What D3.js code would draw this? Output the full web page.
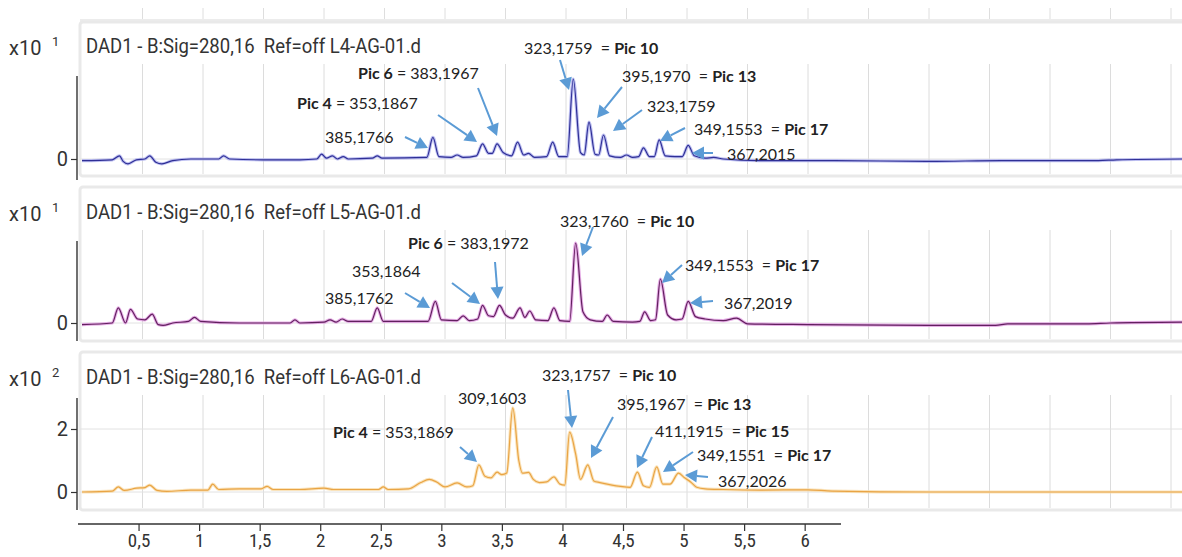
<!DOCTYPE html>
<html>
<head>
<meta charset="utf-8">
<script src="https://cdn.jsdelivr.net/npm/d3@7"></script>
<style>
  body { margin: 0; background: #fff; }
  svg { display: block; }
</style>
</head>
<body>
<div id="chart"></div>
<script>
// chromatogram data, time (min) and signal (in units of the x10^n label)
const titles = [
  "DAD1 - B:Sig=280,16  Ref=off L4-AG-01.d",
  "DAD1 - B:Sig=280,16  Ref=off L5-AG-01.d",
  "DAD1 - B:Sig=280,16  Ref=off L6-AG-01.d"
];
const exponents = ["1", "1", "2"];
const yTicks = [[0], [0], [0, 2]];
const xTicks = [0.5, 1, 1.5, 2, 2.5, 3, 3.5, 4, 4.5, 5, 5.5, 6];

const traceL4 = [
  [0.00,-0.02],[0.25,-0.01],[0.31,0.04],[0.34,-0.03],[0.38,-0.06],[0.45,-0.01],[0.52,0.0],
  [0.56,0.04],[0.61,-0.04],[0.66,-0.06],[0.75,-0.02],[0.90,0.0],[1.13,0.0],[1.17,0.04],
  [1.22,0.0],[1.50,-0.01],[1.80,-0.01],[1.94,0.0],[1.98,0.06],[2.02,0.01],[2.07,0.04],
  [2.11,0.0],[2.16,0.03],[2.20,0.0],[2.40,0.01],[2.44,0.04],[2.48,0.01],[2.85,0.02],
  [2.90,0.27],[2.95,0.03],[3.05,0.02],[3.10,0.05],[3.15,0.02],[3.26,0.04],[3.31,0.19],
  [3.36,0.07],[3.39,0.07],[3.43,0.19],[3.48,0.08],[3.55,0.04],[3.60,0.21],[3.65,0.05],
  [3.69,0.07],[3.74,0.02],[3.84,0.03],[3.89,0.21],[3.94,0.03],[4.01,0.03],[4.06,1.0],
  [4.12,0.08],[4.15,0.05],[4.19,0.46],[4.24,0.06],[4.27,0.05],[4.31,0.30],[4.36,0.04],
  [4.45,0.02],[4.50,0.05],[4.55,0.02],[4.60,0.03],[4.64,0.14],[4.69,0.03],[4.73,0.03],
  [4.77,0.24],[4.82,0.04],[4.90,0.03],[4.96,0.03],[5.01,0.17],[5.06,0.04],[5.15,0.01],
  [5.22,0.02],[5.30,0.0],[5.60,-0.02],[6.20,-0.02],[7.00,-0.03],[7.60,-0.02],[8.40,-0.02],
  [8.55,-0.01],[9.10,0.0]
];
const traceL5 = [
  [0.00,-0.02],[0.25,0.0],[0.30,0.19],[0.36,0.0],[0.40,0.17],[0.46,0.05],[0.52,0.04],
  [0.58,0.11],[0.63,-0.02],[0.67,-0.03],[0.75,0.0],[0.88,0.02],[0.93,0.07],[0.98,0.02],
  [1.30,0.0],[1.72,0.0],[1.76,0.04],[1.80,0.0],[2.00,0.01],[2.05,0.04],[2.10,0.01],
  [2.15,0.05],[2.20,0.02],[2.39,0.02],[2.44,0.19],[2.49,0.02],[2.86,0.02],[2.92,0.27],
  [2.97,0.04],[3.10,0.03],[3.15,0.09],[3.20,0.03],[3.27,0.05],[3.31,0.22],[3.36,0.09],
  [3.40,0.08],[3.45,0.22],[3.50,0.10],[3.56,0.06],[3.62,0.19],[3.66,0.07],[3.70,0.15],
  [3.75,0.04],[3.85,0.03],[3.90,0.19],[3.95,0.03],[4.03,0.02],[4.08,1.0],[4.14,0.14],
  [4.20,0.04],[4.30,0.02],[4.34,0.10],[4.39,0.02],[4.55,0.01],[4.61,0.02],[4.65,0.14],
  [4.70,0.03],[4.74,0.04],[4.78,0.55],[4.84,0.10],[4.91,0.04],[4.96,0.05],[5.01,0.27],
  [5.07,0.08],[5.15,0.05],[5.30,0.03],[5.41,0.06],[5.50,-0.01],[6.00,-0.02],[7.00,-0.03],
  [7.55,-0.03],[7.65,-0.01],[8.30,-0.01],[8.50,0.0],[9.10,0.01]
];
const traceL6 = [
  [0.00,0.0],[0.25,0.03],[0.30,0.16],[0.35,0.05],[0.45,0.12],[0.52,0.14],[0.56,0.22],
  [0.62,0.05],[0.70,0.02],[0.90,0.06],[1.04,0.06],[1.08,0.25],[1.13,0.08],[1.30,0.10],
  [1.48,0.10],[1.53,0.18],[1.58,0.08],[1.80,0.08],[2.00,0.12],[2.08,0.08],[2.45,0.08],
  [2.49,0.16],[2.53,0.08],[2.70,0.10],[2.80,0.30],[2.87,0.40],[2.93,0.32],[3.00,0.16],
  [3.10,0.29],[3.18,0.16],[3.23,0.20],[3.28,0.86],[3.33,0.50],[3.38,0.45],[3.43,0.63],
  [3.47,0.55],[3.51,0.60],[3.56,2.67],[3.61,1.00],[3.64,0.60],[3.69,0.62],[3.73,0.40],
  [3.78,0.30],[3.84,0.32],[3.90,0.48],[3.95,0.25],[3.99,0.22],[4.03,1.90],[4.08,1.20],
  [4.12,0.40],[4.18,0.86],[4.23,0.35],[4.28,0.30],[4.38,0.22],[4.45,0.18],[4.53,0.15],
  [4.59,0.63],[4.64,0.20],[4.69,0.15],[4.75,0.80],[4.80,0.25],[4.86,0.25],[4.93,0.60],
  [4.98,0.45],[5.03,0.32],[5.08,0.15],[5.15,0.10],[5.30,0.08],[5.60,0.06],[6.00,0.07],
  [6.20,0.03],[7.00,0.0],[8.00,0.0],[9.10,0.0]
];
const traces = [traceL4, traceL5, traceL6];

// annotation texts, [text, bold]
const notes = [
  [[["323,1759  = ",0],["Pic 10",1]], [["Pic 6",1],[" = 383,1967",0]], [["Pic 4",1],[" = 353,1867",0]],
   [["385,1766",0]], [["395,1970  = ",0],["Pic 13",1]], [["323,1759",0]],
   [["349,1553  = ",0],["Pic 17",1]], [["367,2015",0]]],
  [[["323,1760  = ",0],["Pic 10",1]], [["Pic 6",1],[" = 383,1972",0]], [["353,1864",0]],
   [["385,1762",0]], [["349,1553  = ",0],["Pic 17",1]], [["367,2019",0]]],
  [[["323,1757  = ",0],["Pic 10",1]], [["309,1603",0]], [["395,1967  = ",0],["Pic 13",1]],
   [["Pic 4",1],[" = 353,1869",0]], [["411,1915  = ",0],["Pic 15",1]],
   [["349,1551  = ",0],["Pic 17",1]], [["367,2026",0]]]
];

// layout
const width = 1182, height = 557;
const panels = [
  {top: 22, bottom: 176, titleY: 46, axTop: 76, axBot: 180, zero: 159, unit: 80},
  {top: 187, bottom: 341, titleY: 212, axTop: 241, axBot: 341, zero: 323, unit: 80},
  {top: 352, bottom: 510, titleY: 377, axTop: 398, axBot: 510, zero: 492, unit: 31.5}
];
const colors = [
  {core: "#2f2f96", halo: "#aeb0ee"},
  {core: "#62205f", halo: "#e09ae0"},
  {core: "#e9a444", halo: "#f9dcaa"}
];
// text label positions (x, y middle) and arrows (tail x,y -> head x,y), pixels
const noteLayout = [
  [{x:524,y:48,a:[560,60,569,90]}, {x:358,y:73,a:[478,88,497,136]}, {x:297,y:103,a:[438,115,477,142]},
   {x:325,y:137,a:[405,137,428,148]}, {x:622,y:76,a:[622,87,597,118]}, {x:647,y:106,a:[642,110,613,131]},
   {x:694,y:129,a:[685,128,660,141]}, {x:727,y:154,a:[713,153,692,153]}],
  [{x:560,y:221,a:[593,227,582,256]}, {x:408,y:243,a:[495,262,498,299]}, {x:352,y:271,a:[452,283,480,304]},
   {x:325,y:298,a:[405,293,430,308]}, {x:685,y:265,a:[682,265,662,283]}, {x:724,y:303,a:[713,301,690,303]}],
  [{x:542,y:375,a:[568,390,572,428]}, {x:458,y:398,a:null}, {x:617,y:404,a:[613,417,591,458]},
   {x:333,y:432,a:[460,447,477,462]}, {x:655,y:431,a:[652,437,637,468]},
   {x:697,y:455,a:[693,452,663,472]}, {x:718,y:481,a:[708,477,685,475]}]
];

const svg = d3.select('#chart').append('svg')
    .attr('width', width)
    .attr('height', height)
    .style('font-family', 'Roboto, "Liberation Sans", sans-serif');

// x scale shared by the traces
const x = d3.scaleLinear().domain([0, 9]).range([82, 1171]);
const gridTicks = d3.range(0.5, 9.01, 0.5);

// strip of the panel above (cut off at the top)
svg.append('g').selectAll('line')
    .data(gridTicks)
    .join('line')
        .attr('x1', d => x(d)).attr('x2', d => x(d))
        .attr('y1', 8).attr('y2', 19)
        .attr('stroke', '#dedede');
svg.append('rect')
    .attr('x', 80).attr('y', 19).attr('width', 1110).attr('height', 3)
    .attr('fill', '#ececec');

panels.forEach(function(p, i){
    const g = svg.append('g');
    g.append('rect')
        .attr('x', 80).attr('y', p.top)
        .attr('width', 1110).attr('height', p.bottom - p.top)
        .attr('rx', 3)
        .attr('fill', '#fff')
        .attr('stroke', '#e9e9e9')
        .attr('stroke-width', 3);

    const y = d3.scaleLinear()
        .domain([(p.zero - p.axBot) / p.unit, (p.zero - p.axTop) / p.unit])
        .range([p.axBot, p.axTop]);

    // vertical grid
    g.append('g').selectAll('line')
        .data(gridTicks)
        .join('line')
            .attr('x1', d => x(d)).attr('x2', d => x(d))
            .attr('y1', p.titleY + 18).attr('y2', p.bottom - 2)
            .attr('stroke', '#dcdcdc');
    // horizontal grid
    g.append('g').selectAll('line')
        .data(yTicks[i])
        .join('line')
            .attr('x1', 80).attr('x2', 1182)
            .attr('y1', d => y(d)).attr('y2', d => y(d))
            .attr('stroke', '#e2e2e2');

    // y axis
    const ax = g.append('g')
        .attr('transform', 'translate(77,0)')
        .call(d3.axisLeft(y).tickValues(yTicks[i]).tickSize(6).tickPadding(3).tickFormat(d3.format('d')));
    ax.select('.domain').attr('stroke', '#333').attr('stroke-width', 1.4).attr('d', `M0,${p.axTop}V${p.axBot}`);
    ax.selectAll('.tick line').attr('stroke', '#333').attr('stroke-width', 1.2);
    ax.selectAll('.tick text')
        .attr('font-size', 20).attr('fill', '#333')
        .attr('font-family', 'Roboto, sans-serif');

    // title and exponent
    g.append('text')
        .attr('x', 86).attr('y', p.titleY).attr('dy', '0.35em')
        .attr('font-size', 20).attr('fill', '#333')
        .attr('textLength', 335).attr('lengthAdjust', 'spacingAndGlyphs')
        .style('white-space', 'pre')
        .text(titles[i]);
    g.append('text')
        .attr('x', 9).attr('y', p.titleY + 2).attr('dy', '0.35em')
        .attr('font-size', 20).attr('fill', '#333')
        .text('x10');
    g.append('text')
        .attr('x', 52).attr('y', p.titleY - 5).attr('dy', '0.35em')
        .attr('font-size', 13).attr('fill', '#333')
        .text(exponents[i]);

    // trace
    const line = d3.line()
        .x(d => x(d[0]))
        .y(d => y(d[1]))
        .curve(d3.curveMonotoneX);
    g.append('path')
        .datum(traces[i])
        .attr('fill', 'none')
        .attr('stroke', colors[i].halo)
        .attr('stroke-width', 3.2)
        .attr('stroke-opacity', 0.8)
        .attr('d', line);
    g.append('path')
        .datum(traces[i])
        .attr('fill', 'none')
        .attr('stroke', colors[i].core)
        .attr('stroke-width', 1.2)
        .attr('d', line);
});

// annotations
const arrowColor = '#5b9bd5';
notes.forEach(function(list, i){
    list.forEach(function(parts, j){
        const lay = noteLayout[i][j];
        const t = svg.append('text')
            .attr('x', lay.x).attr('y', lay.y).attr('dy', '0.35em')
            .attr('font-family', 'Lato, "Open Sans", sans-serif')
            .attr('font-size', 16).attr('fill', '#222')
            .style('white-space', 'pre');
        parts.forEach(function(pt){
            t.append('tspan')
                .attr('font-weight', pt[1] ? 'bold' : 'normal')
                .text(pt[0]);
        });
        if(lay.a){
            const [x0, y0, x1, y1] = lay.a;
            const ang = Math.atan2(y1 - y0, x1 - x0);
            const hl = 12, hw = 6.5;
            const bx = x1 - hl * Math.cos(ang), by = y1 - hl * Math.sin(ang);
            svg.append('line')
                .attr('x1', x0).attr('y1', y0).attr('x2', bx).attr('y2', by)
                .attr('stroke', arrowColor).attr('stroke-width', 2);
            const px = -Math.sin(ang) * hw, py = Math.cos(ang) * hw;
            svg.append('path')
                .attr('d', `M${x1},${y1}L${bx + px},${by + py}L${bx - px},${by - py}Z`)
                .attr('fill', arrowColor);
        }
    });
});

// bottom time axis (shorter than the panels, as in the source image)
const xb = d3.scaleLinear().domain([0, 6.3]).range([78, 841]);
const xAxis = svg.append('g')
    .attr('transform', 'translate(0,524)')
    .call(d3.axisBottom(xb).tickValues(xTicks).tickSize(7).tickPadding(3)
        .tickFormat(d => String(d).replace('.', ',')));
xAxis.select('.domain').attr('stroke', '#333').attr('stroke-width', 1.4).attr('d', 'M78,0H841');
xAxis.selectAll('.tick line').attr('stroke', '#333').attr('stroke-width', 1.2);
xAxis.selectAll('.tick text')
    .attr('font-size', 19).attr('fill', '#333')
    .attr('font-family', '"Liberation Sans Narrow", "Roboto Condensed", Roboto, sans-serif');
</script>
</body>
</html>
